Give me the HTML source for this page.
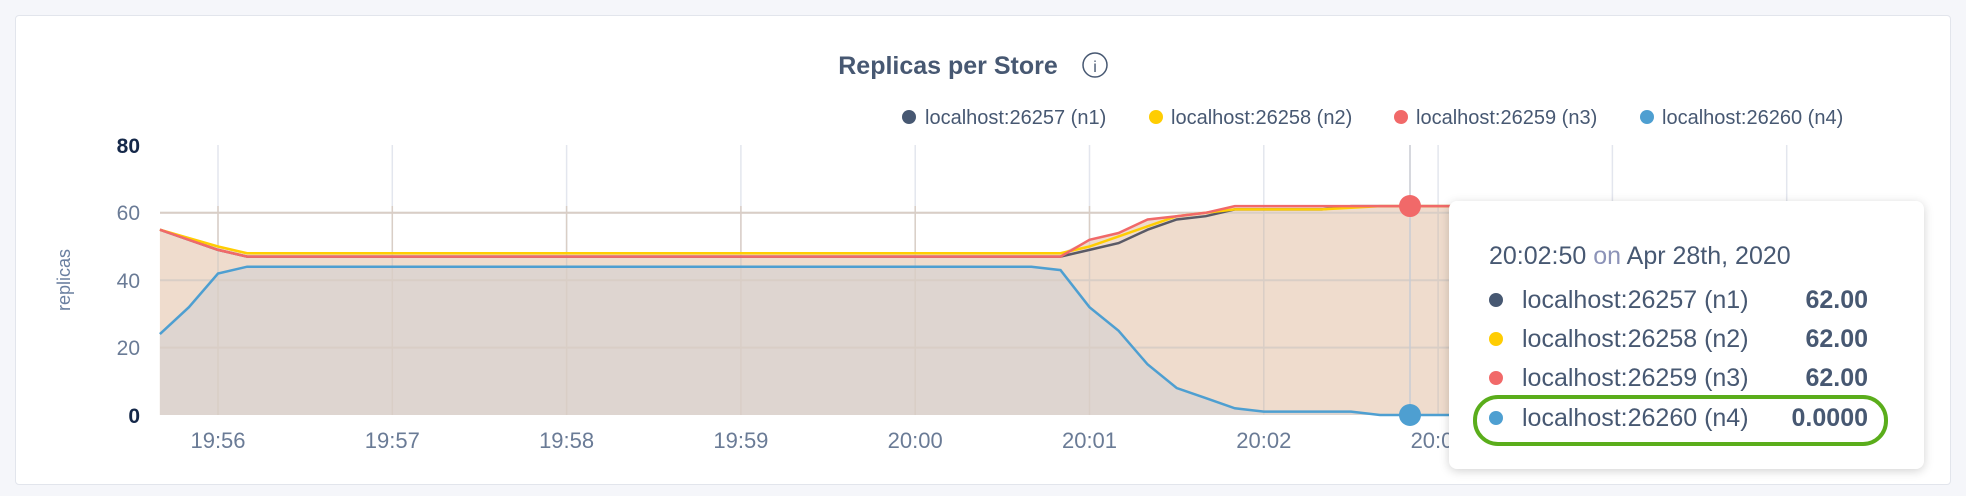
<!DOCTYPE html>
<html><head><meta charset="utf-8"><style>
html,body{margin:0;padding:0;background:#f5f6fa;width:1966px;height:496px;overflow:hidden;font-family:"Liberation Sans",sans-serif}
#card{position:absolute;left:15px;top:15px;width:1934px;height:468px;background:#fff;border:1px solid #e2e5ec;border-radius:4px}
#tt{position:absolute;left:1449px;top:201px;width:475px;height:268px;background:#fff;border-radius:8px;box-shadow:0 2px 10px rgba(0,0,0,0.18);color:#475872;font-size:25px}
.row{position:absolute;left:0;width:475px;height:30px;line-height:30px}
.dot{position:absolute;left:40px;top:8px;width:14px;height:14px;border-radius:50%}
.lab{position:absolute;left:73px}
.val{position:absolute;right:56px;font-weight:bold}
</style></head><body>
<div id="card"></div>
<svg id="s" width="1966" height="496" style="position:absolute;left:0;top:0" font-family="Liberation Sans, sans-serif">
<text x="948" y="74" text-anchor="middle" font-size="25" font-weight="bold" fill="#475872">Replicas per Store</text>
<circle cx="1095" cy="65" r="12" fill="none" stroke="#475872" stroke-width="1.5"/>
<text x="1095" y="72" text-anchor="middle" font-size="16" fill="#475872">i</text>
<g font-size="20" fill="#475872">
<circle cx="909" cy="117" r="7" fill="#475872"/><text x="925" y="124">localhost:26257 (n1)</text>
<circle cx="1156" cy="117" r="7" fill="#ffcd02"/><text x="1171" y="124">localhost:26258 (n2)</text>
<circle cx="1401" cy="117" r="7" fill="#f16969"/><text x="1416" y="124">localhost:26259 (n3)</text>
<circle cx="1647" cy="117" r="7" fill="#4e9fd1"/><text x="1662" y="124">localhost:26260 (n4)</text>
</g>
<g id="grid"></g>
<g id="series"></g>
<text x="70" y="280" transform="rotate(-90 70 280)" text-anchor="middle" font-size="18" fill="#6a7fa0">replicas</text>
<g font-size="21" text-anchor="end">
<text x="140" y="153" font-weight="bold" fill="#152849">80</text>
<text x="140" y="220" fill="#6a7b96">60</text>
<text x="140" y="288" fill="#6a7b96">40</text>
<text x="140" y="355" fill="#6a7b96">20</text>
<text x="140" y="423" font-weight="bold" fill="#152849">0</text>
</g>
<g id="xl" font-size="22" fill="#6a7b96" text-anchor="middle"></g>
</svg>
<div id="tt">
<div style="position:absolute;left:40px;top:41px">20:02:50 <span style="color:#8c93b8">on</span> Apr 28th, 2020</div>
<div class="row" style="top:84px"><div class="dot" style="background:#475872"></div><span class="lab">localhost:26257 (n1)</span><span class="val">62.00</span></div>
<div class="row" style="top:123px"><div class="dot" style="background:#ffcd02"></div><span class="lab">localhost:26258 (n2)</span><span class="val">62.00</span></div>
<div class="row" style="top:162px"><div class="dot" style="background:#f16969"></div><span class="lab">localhost:26259 (n3)</span><span class="val">62.00</span></div>
<div class="row" style="top:202px"><div class="dot" style="background:#4e9fd1"></div><span class="lab">localhost:26260 (n4)</span><span class="val">0.0000</span></div>
<div style="position:absolute;left:24px;top:194px;width:407px;height:43px;border:4px solid #5aad1b;border-radius:25px"></div>
</div>
<script>
(function(){
const NS="http://www.w3.org/2000/svg";
function el(p,t,a){const e=document.createElementNS(NS,t);for(const k in a)e.setAttribute(k,a[k]);p.appendChild(e);return e;}
const X=k=>218+k*29.05, Y=v=>415-v*3.37;
const g=document.getElementById('grid'), s=document.getElementById('series'), xl=document.getElementById('xl');
[60,40,20].forEach(v=>el(g,'line',{x1:160,x2:1845,y1:Y(v),y2:Y(v),stroke:'#e3e6ee','stroke-width':2}));
const labs=['19:56','19:57','19:58','19:59','20:00','20:01','20:02','20:03','20:04','20:05'];
labs.forEach((l,i)=>{const x=218+i*174.3;el(g,'line',{x1:x,x2:x,y1:145,y2:415,stroke:'#e3e6ee','stroke-width':1.5});const t=el(xl,'text',{x:x,y:448});t.textContent=l;});
const K0=-2,K1=56;
function series(pre,mid,midEnd,post,fill){const a=pre.slice();while(a.length<midEnd-K0+1)a.push(mid);post.forEach(v=>a.push(v));while(a.length<K1-K0+1)a.push(fill);return a;}
const red=series([55,52,49],47,29,[52,54,58,59,60,62],62);
const yel=series([55,52.5,50],48,29,[50,53,56,59,60,61,61,61,61,61.5],62);
const n1=series([55,52,49],47,29,[49,51,55,58,59,61,61,61,61,62],62);
const blu=series([24,32,42],44,28,[43,32,25,15,8,5,2,1,1,1,1,0],0);
function pts(a){return a.map((v,i)=>X(i+K0).toFixed(1)+','+Y(v).toFixed(1)).join(' ');}
const upper=red.map((v,i)=>Math.max(v,yel[i],n1[i]));
el(s,'polygon',{points:pts(upper)+` ${X(K1)},415 ${X(K0)},415`,fill:'#efdccd'});
el(s,'polygon',{points:pts(blu)+` ${X(K1)},415 ${X(K0)},415`,fill:'#ded5d0'});
[60,40,20].forEach(v=>el(s,'line',{x1:160,x2:1845,y1:Y(v),y2:Y(v),stroke:'#d9cec6','stroke-width':2}));
labs.forEach((l,i)=>{const x=218+i*174.3;el(s,'line',{x1:x,x2:x,y1:Y(62),y2:415,stroke:'#d9cec6','stroke-width':1.5});});
el(s,'polyline',{points:pts(n1),fill:'none',stroke:'#5a5a66','stroke-width':2.5});
el(s,'polyline',{points:pts(yel),fill:'none',stroke:'#ffcd02','stroke-width':2.5});
el(s,'polyline',{points:pts(red),fill:'none',stroke:'#f16969','stroke-width':2.5});
el(s,'polyline',{points:pts(blu),fill:'none',stroke:'#4e9fd1','stroke-width':2.5});
el(s,'line',{x1:1410,x2:1410,y1:145,y2:415,stroke:'#c8ccd4','stroke-width':1.5});
el(s,'circle',{cx:1410,cy:Y(62),r:11,fill:'#f16969'});
el(s,'circle',{cx:1410,cy:415,r:11,fill:'#4e9fd1'});
})();
</script>
</body></html>
